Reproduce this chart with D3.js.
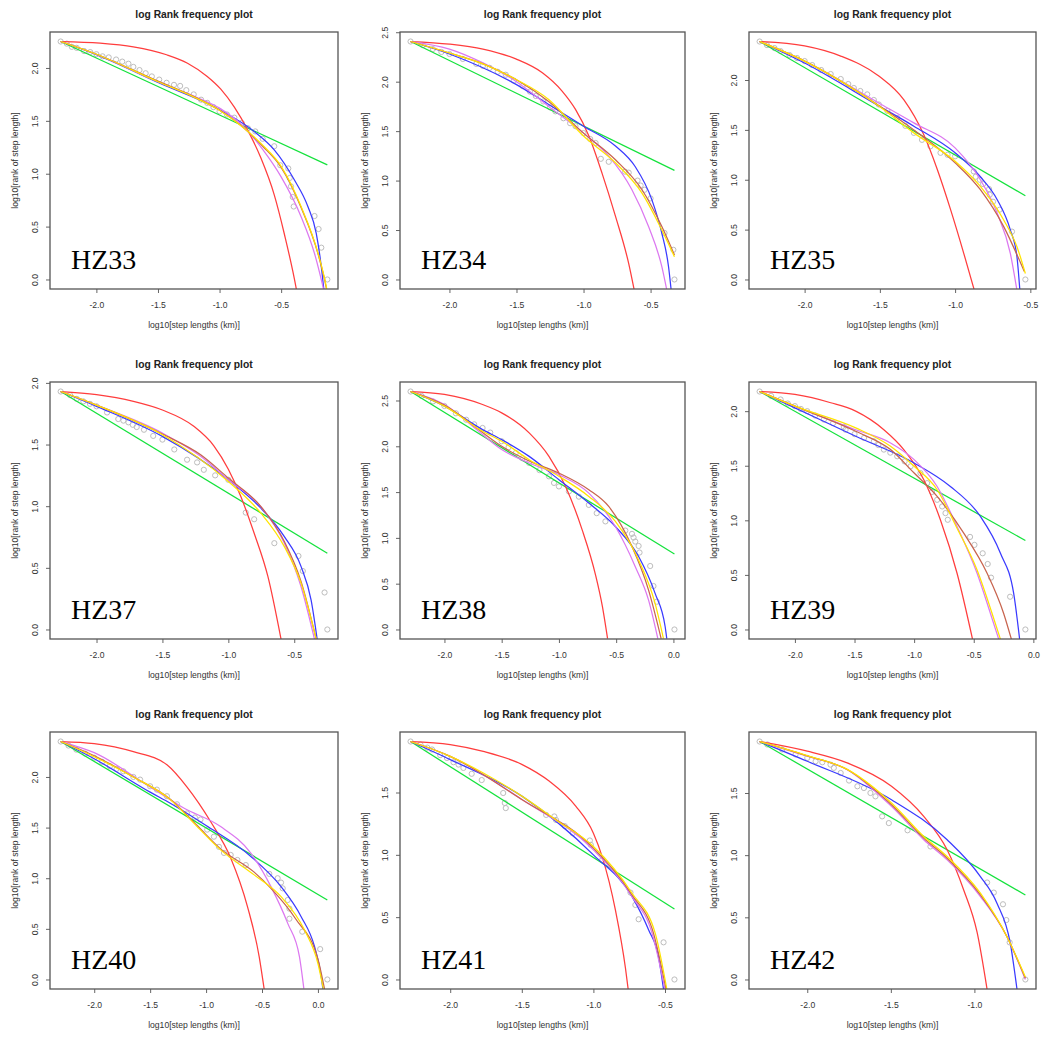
<!DOCTYPE html>
<html>
<head>
<meta charset="utf-8">
<script src="https://cdn.jsdelivr.net/npm/d3@7"></script>
<style>
  body { margin: 0; background: #fff; }
</style>
</head>
<body>
<svg id="chart" width="1047" height="1045"></svg>
<script>
const panelNames = ["HZ33", "HZ34", "HZ35", "HZ37", "HZ38", "HZ39", "HZ40", "HZ41", "HZ42"];

const xTicks = [
  [-2.0, -1.5, -1.0, -0.5], [-2.0, -1.5, -1.0, -0.5], [-2.0, -1.5, -1.0, -0.5],
  [-2.0, -1.5, -1.0, -0.5], [-2.0, -1.5, -1.0, -0.5, 0.0], [-2.0, -1.5, -1.0, -0.5, 0.0],
  [-2.0, -1.5, -1.0, -0.5, 0.0], [-2.0, -1.5, -1.0, -0.5], [-2.0, -1.5, -1.0]
];
const yTicks = [
  [0, 0.5, 1.0, 1.5, 2.0], [0, 0.5, 1.0, 1.5, 2.0, 2.5], [0, 0.5, 1.0, 1.5, 2.0],
  [0, 0.5, 1.0, 1.5, 2.0], [0, 0.5, 1.0, 1.5, 2.0, 2.5], [0, 0.5, 1.0, 1.5, 2.0],
  [0, 0.5, 1.0, 1.5, 2.0], [0, 0.5, 1.0, 1.5], [0, 0.5, 1.0, 1.5]
];

// observed points: [log10 step length, log10 rank]
const observed = [
  [[-2.29,2.25],[-2.24,2.23],[-2.2,2.2],[-2.16,2.19],[-2.1,2.16],[-2.05,2.15],[-2.0,2.13],[-1.95,2.11],[-1.9,2.1],[-1.84,2.08],[-1.79,2.06],[-1.74,2.04],[-1.7,2.01],[-1.65,1.98],[-1.6,1.95],[-1.55,1.92],[-1.49,1.89],[-1.43,1.86],[-1.37,1.84],[-1.32,1.83],[-1.27,1.79],[-1.21,1.75],[-1.15,1.7],[-1.1,1.67],[-1.05,1.63],[-1.0,1.59],[-0.94,1.56],[-0.88,1.53],[-0.82,1.48],[-0.77,1.43],[-0.71,1.4],[-0.65,1.33],[-0.556,1.26],[-0.507,1.08],[-0.442,1.05],[-0.43,0.96],[-0.42,0.88],[-0.406,0.78],[-0.398,0.69],[-0.229,0.6],[-0.196,0.477],[-0.174,0.301],[-0.125,0]],
  [[-2.29,2.406],[-2.2,2.37],[-2.124,2.33],[-2.06,2.3],[-2.0,2.28],[-1.9,2.23],[-1.8,2.18],[-1.75,2.16],[-1.7,2.14],[-1.64,2.1],[-1.58,2.07],[-1.52,2.01],[-1.455,1.956],[-1.4,1.9],[-1.356,1.855],[-1.3,1.8],[-1.25,1.74],[-1.21,1.7],[-1.15,1.63],[-1.1,1.58],[-1.06,1.55],[-1.0,1.48],[-0.95,1.42],[-0.91,1.38],[-0.871,1.22],[-0.812,1.19],[-0.69,1.09],[-0.663,1.08],[-0.597,1.0],[-0.574,0.95],[-0.545,0.907],[-0.5,0.82],[-0.396,0.47],[-0.33,0.3],[-0.322,0]],
  [[-2.299,2.386],[-2.25,2.35],[-2.2,2.32],[-2.16,2.29],[-2.1,2.25],[-2.05,2.22],[-2.0,2.19],[-1.95,2.15],[-1.89,2.1],[-1.827,2.06],[-1.76,2.01],[-1.71,1.96],[-1.673,1.92],[-1.63,1.89],[-1.584,1.856],[-1.54,1.8],[-1.507,1.755],[-1.45,1.69],[-1.385,1.62],[-1.33,1.54],[-1.274,1.47],[-1.22,1.4],[-1.164,1.336],[-1.097,1.27],[-1.05,1.25],[-1.0,1.235],[-0.876,1.084],[-0.863,1.03],[-0.836,1.0],[-0.814,0.956],[-0.774,0.906],[-0.77,0.85],[-0.748,0.78],[-0.704,0.7],[-0.622,0.48],[-0.533,0]],
  [[-2.272,1.93],[-2.2,1.9],[-2.15,1.87],[-2.1,1.85],[-2.05,1.83],[-2.0,1.81],[-1.92,1.76],[-1.835,1.707],[-1.796,1.694],[-1.758,1.68],[-1.725,1.66],[-1.695,1.642],[-1.64,1.62],[-1.57,1.57],[-1.5,1.54],[-1.41,1.46],[-1.313,1.377],[-1.237,1.355],[-1.186,1.295],[-1.1,1.25],[-1.0,1.214],[-0.868,0.948],[-0.804,0.894],[-0.651,0.7],[-0.468,0.596],[-0.435,0.474],[-0.27,0.3],[-0.249,0]],
  [[-2.296,2.598],[-2.2,2.55],[-2.1,2.49],[-2.0,2.44],[-1.9,2.36],[-1.81,2.29],[-1.74,2.24],[-1.667,2.2],[-1.6,2.15],[-1.5,2.055],[-1.44,1.99],[-1.377,1.927],[-1.32,1.87],[-1.26,1.818],[-1.17,1.74],[-1.087,1.672],[-1.043,1.6],[-1.0,1.562],[-0.913,1.507],[-0.826,1.45],[-0.739,1.36],[-0.67,1.27],[-0.594,1.18],[-0.42,1.08],[-0.362,1.044],[-0.348,1.004],[-0.333,0.96],[-0.304,0.912],[-0.296,0.84],[-0.203,0.693],[-0.174,0.474],[-0.145,0.303],[0.009,0]],
  [[-2.296,2.18],[-2.2,2.14],[-2.12,2.107],[-2.06,2.07],[-2.0,2.046],[-1.95,2.02],[-1.897,2.0],[-1.83,1.96],[-1.757,1.923],[-1.68,1.89],[-1.59,1.856],[-1.575,1.83],[-1.5,1.79],[-1.42,1.755],[-1.338,1.724],[-1.3,1.69],[-1.254,1.648],[-1.2,1.62],[-1.142,1.587],[-1.08,1.54],[-1.03,1.495],[-0.947,1.433],[-0.891,1.341],[-0.85,1.26],[-0.807,1.188],[-0.765,1.127],[-0.737,1.066],[-0.718,1.005],[-0.531,0.848],[-0.494,0.775],[-0.425,0.698],[-0.383,0.6],[-0.355,0.475],[-0.195,0.3],[-0.067,0]],
  [[-2.3,2.35],[-2.23,2.31],[-2.16,2.27],[-2.08,2.23],[-2.0,2.19],[-1.93,2.15],[-1.86,2.106],[-1.8,2.08],[-1.74,2.056],[-1.65,2.0],[-1.59,1.974],[-1.5,1.908],[-1.44,1.875],[-1.35,1.81],[-1.26,1.73],[-1.17,1.64],[-1.1,1.6],[-1.05,1.58],[-0.99,1.48],[-0.93,1.41],[-0.885,1.31],[-0.84,1.25],[-0.78,1.23],[-0.72,1.18],[-0.645,1.13],[-0.435,1.043],[-0.36,1.0],[-0.33,0.957],[-0.315,0.9],[-0.27,0.785],[-0.255,0.7],[-0.255,0.6],[-0.14,0.472],[0.02,0.3],[0.084,0]],
  [[-2.277,1.909],[-2.208,1.885],[-2.16,1.86],[-2.127,1.845],[-2.07,1.8],[-2.023,1.777],[-1.977,1.743],[-1.942,1.724],[-1.908,1.697],[-1.85,1.65],[-1.78,1.6],[-1.63,1.496],[-1.619,1.416],[-1.612,1.375],[-1.33,1.32],[-1.273,1.308],[-1.261,1.28],[-1.2,1.23],[-1.145,1.174],[-1.025,1.115],[-1.018,1.08],[-0.938,0.96],[-0.741,0.697],[-0.707,0.598],[-0.684,0.483],[-0.51,0.298],[-0.434,0]],
  [[-2.285,1.914],[-2.239,1.89],[-2.15,1.85],[-2.07,1.81],[-2.0,1.782],[-1.95,1.755],[-1.91,1.747],[-1.861,1.728],[-1.841,1.702],[-1.8,1.661],[-1.75,1.6],[-1.7,1.554],[-1.661,1.54],[-1.622,1.5],[-1.592,1.473],[-1.552,1.312],[-1.512,1.258],[-1.4,1.2],[-1.263,1.07],[-0.924,0.78],[-0.884,0.699],[-0.829,0.605],[-0.809,0.478],[-0.789,0.298],[-0.695,0]]
];

// fitted curves, one list per panel
const fitGreen = [
  [[-2.29,2.25],[-0.125,1.084]],
  [[-2.29,2.406],[-0.322,1.103]],
  [[-2.299,2.386],[-0.533,0.84]],
  [[-2.272,1.93],[-0.249,0.618]],
  [[-2.296,2.598],[0.009,0.825]],
  [[-2.296,2.18],[-0.067,0.815]],
  [[-2.3,2.35],[0.084,0.785]],
  [[-2.277,1.909],[-0.434,0.566]],
  [[-2.285,1.914],[-0.695,0.68]]
];
const fitRed = [
  [[-2.29,2.25],[-1.97,2.235],[-1.7,2.2],[-1.43,2.125],[-1.26,2.045],[-1.1,1.92],[-0.99,1.8],[-0.88,1.63],[-0.77,1.41],[-0.665,1.15],[-0.556,0.8],[-0.474,0.43],[-0.38,-0.07],[-0.36,-0.2]],
  [[-2.29,2.406],[-2.0,2.38],[-1.75,2.33],[-1.505,2.23],[-1.307,2.09],[-1.16,1.905],[-1.06,1.72],[-0.96,1.45],[-0.861,1.07],[-0.762,0.64],[-0.663,0.16],[-0.62,-0.12]],
  [[-2.299,2.386],[-2.0,2.342],[-1.76,2.24],[-1.507,2.04],[-1.34,1.8],[-1.208,1.45],[-1.12,1.11],[-1.03,0.7],[-0.942,0.26],[-0.87,-0.12]],
  [[-2.272,1.93],[-2.0,1.905],[-1.72,1.85],[-1.5,1.78],[-1.262,1.648],[-1.11,1.49],[-1.0,1.3],[-0.906,1.08],[-0.804,0.78],[-0.7,0.43],[-0.6,-0.08]],
  [[-2.296,2.598],[-2.0,2.566],[-1.667,2.456],[-1.5,2.365],[-1.26,2.146],[-1.087,1.89],[-0.942,1.562],[-0.797,1.088],[-0.681,0.6],[-0.62,0.25],[-0.575,-0.1]],
  [[-2.296,2.18],[-2.0,2.153],[-1.7,2.077],[-1.49,2.0],[-1.254,1.83],[-1.087,1.648],[-0.919,1.372],[-0.78,1.005],[-0.64,0.515],[-0.51,-0.09]],
  [[-2.3,2.35],[-2.0,2.33],[-1.65,2.25],[-1.35,2.12],[-1.17,1.9],[-0.96,1.56],[-0.78,1.2],[-0.63,0.72],[-0.525,0.224],[-0.48,-0.1]],
  [[-2.277,1.909],[-2.0,1.885],[-1.769,1.83],[-1.497,1.724],[-1.307,1.59],[-1.122,1.389],[-1.0,1.174],[-0.94,0.99],[-0.845,0.55],[-0.776,0.09],[-0.757,-0.08]],
  [[-2.285,1.914],[-2.0,1.836],[-1.761,1.742],[-1.496,1.554],[-1.303,1.312],[-1.163,1.043],[-1.064,0.72],[-0.984,0.38],[-0.924,-0.08]]
];
const fitBlue = [
  [[-2.29,2.25],[-2.0,2.126],[-1.49,1.858],[-1.0,1.605],[-0.719,1.4],[-0.556,1.226],[-0.392,0.94],[-0.283,0.69],[-0.215,0.436],[-0.174,0.12],[-0.153,-0.1]],
  [[-2.29,2.406],[-2.0,2.28],[-1.5,1.97],[-1.26,1.77],[-1.0,1.55],[-0.762,1.35],[-0.614,1.14],[-0.49,0.805],[-0.416,0.467],[-0.366,0.129],[-0.347,-0.1]],
  [[-2.299,2.386],[-2.0,2.17],[-1.507,1.74],[-1.274,1.537],[-1.0,1.27],[-0.832,1.03],[-0.72,0.8],[-0.633,0.497],[-0.589,0.228],[-0.57,-0.1]],
  [[-2.272,1.93],[-2.0,1.81],[-1.5,1.566],[-1.0,1.214],[-0.753,0.984],[-0.575,0.753],[-0.448,0.51],[-0.372,0.238],[-0.326,-0.08]],
  [[-2.296,2.598],[-2.0,2.438],[-1.667,2.182],[-1.5,2.073],[-1.26,1.89],[-1.0,1.635],[-0.739,1.38],[-0.507,1.124],[-0.304,0.796],[-0.16,0.394],[-0.072,0.03],[-0.058,-0.1]],
  [[-2.296,2.18],[-2.0,2.03],[-1.49,1.77],[-1.0,1.525],[-0.696,1.31],[-0.444,1.035],[-0.277,0.7],[-0.165,0.33],[-0.115,-0.09]],
  [[-2.3,2.35],[-2.0,2.18],[-1.5,1.85],[-1.32,1.74],[-1.0,1.52],[-0.6,1.215],[-0.33,0.917],[-0.15,0.62],[-0.03,0.323],[0.03,0.026],[0.045,-0.1]],
  [[-2.277,1.909],[-2.0,1.764],[-1.497,1.469],[-1.0,1.0],[-0.73,0.665],[-0.614,0.397],[-0.545,0.182],[-0.51,-0.08]],
  [[-2.285,1.914],[-2.0,1.755],[-1.496,1.446],[-1.163,1.124],[-0.964,0.828],[-0.865,0.613],[-0.785,0.29],[-0.745,-0.08]]
];
const fitViolet = [
  [[-2.29,2.25],[-2.0,2.13],[-1.5,1.87],[-1.2,1.73],[-1.0,1.62],[-0.8,1.44],[-0.65,1.23],[-0.5,0.97],[-0.338,0.594],[-0.229,0.246],[-0.16,-0.07],[-0.15,-0.12]],
  [[-2.29,2.406],[-2.0,2.33],[-1.75,2.19],[-1.5,2.0],[-1.26,1.75],[-1.0,1.48],[-0.81,1.245],[-0.64,0.91],[-0.515,0.535],[-0.416,0.129],[-0.38,-0.1]],
  [[-2.299,2.386],[-2.0,2.19],[-1.507,1.77],[-1.274,1.57],[-1.0,1.32],[-0.832,1.0],[-0.72,0.664],[-0.633,0.262],[-0.59,-0.1]],
  [[-2.272,1.93],[-2.0,1.82],[-1.5,1.593],[-1.21,1.404],[-1.0,1.214],[-0.753,0.997],[-0.575,0.7],[-0.448,0.347],[-0.346,-0.08]],
  [[-2.296,2.598],[-2.0,2.456],[-1.667,2.128],[-1.5,1.964],[-1.26,1.818],[-1.0,1.69],[-0.739,1.489],[-0.507,1.124],[-0.333,0.686],[-0.217,0.321],[-0.136,-0.1]],
  [[-2.296,2.18],[-2.0,2.046],[-1.49,1.83],[-1.198,1.709],[-1.0,1.556],[-0.807,1.31],[-0.64,0.943],[-0.472,0.515],[-0.36,0.147],[-0.29,-0.09]],
  [[-2.3,2.35],[-2.0,2.24],[-1.5,1.9],[-1.2,1.693],[-0.87,1.51],[-0.6,1.248],[-0.42,0.917],[-0.27,0.554],[-0.165,0.224],[-0.126,-0.09]],
  [[-2.277,1.909],[-2.0,1.79],[-1.497,1.442],[-1.0,1.04],[-0.73,0.665],[-0.59,0.37],[-0.5,-0.08]],
  [[-2.285,1.914],[-2.0,1.796],[-1.761,1.688],[-1.496,1.392],[-1.303,1.124],[-1.163,0.962],[-0.964,0.667],[-0.805,0.344],[-0.695,0.0]]
];
const fitYellow = [
  [[-2.29,2.25],[-2.0,2.13],[-1.5,1.87],[-1.2,1.72],[-1.0,1.6],[-0.8,1.43],[-0.65,1.27],[-0.5,1.07],[-0.338,0.69],[-0.2,0.246],[-0.133,-0.07],[-0.125,-0.12]],
  [[-2.29,2.406],[-2.0,2.29],[-1.75,2.18],[-1.5,2.02],[-1.26,1.82],[-1.0,1.45],[-0.762,1.18],[-0.564,0.873],[-0.416,0.5],[-0.322,0.23]],
  [[-2.299,2.386],[-2.0,2.19],[-1.507,1.74],[-1.274,1.47],[-1.0,1.185],[-0.832,0.933],[-0.677,0.597],[-0.589,0.329],[-0.533,0.06]],
  [[-2.272,1.93],[-2.0,1.82],[-1.5,1.58],[-1.0,1.2],[-0.753,0.943],[-0.575,0.672],[-0.448,0.374],[-0.333,-0.08]],
  [[-2.296,2.598],[-2.0,2.438],[-1.667,2.164],[-1.5,2.055],[-1.26,1.854],[-1.0,1.672],[-0.739,1.453],[-0.507,1.179],[-0.304,0.759],[-0.16,0.285],[-0.087,-0.1]],
  [[-2.296,2.18],[-2.0,2.046],[-1.49,1.847],[-1.198,1.678],[-1.0,1.495],[-0.807,1.28],[-0.64,0.928],[-0.472,0.545],[-0.346,0.147],[-0.276,-0.09]],
  [[-2.3,2.35],[-2.0,2.2],[-1.65,2.0],[-1.32,1.776],[-1.08,1.51],[-0.87,1.28],[-0.57,1.033],[-0.33,0.818],[-0.12,0.488],[0.0,0.158],[0.05,-0.1]],
  [[-2.277,1.909],[-2.0,1.79],[-1.769,1.657],[-1.497,1.469],[-1.261,1.28],[-1.0,1.067],[-0.73,0.692],[-0.568,0.37],[-0.487,-0.08]],
  [[-2.285,1.914],[-2.0,1.8],[-1.761,1.69],[-1.496,1.419],[-1.303,1.15],[-1.163,0.989],[-0.964,0.694],[-0.805,0.344],[-0.695,0.02]]
];
const fitBrown = [
  [[-2.29,2.25],[-2.0,2.13],[-1.5,1.875],[-1.2,1.725],[-1.0,1.6],[-0.8,1.43],[-0.65,1.26],[-0.5,1.06],[-0.338,0.68],[-0.2,0.24],[-0.135,-0.07],[-0.127,-0.12]],
  [[-2.29,2.406],[-2.0,2.29],[-1.75,2.18],[-1.5,2.02],[-1.26,1.8],[-1.0,1.48],[-0.762,1.21],[-0.564,0.907],[-0.416,0.535],[-0.322,0.247]],
  [[-2.299,2.386],[-2.0,2.19],[-1.507,1.745],[-1.274,1.5],[-1.0,1.17],[-0.832,0.9],[-0.677,0.53],[-0.54,0.08]],
  [[-2.272,1.93],[-2.0,1.82],[-1.5,1.585],[-1.21,1.417],[-1.0,1.228],[-0.753,0.997],[-0.575,0.713],[-0.448,0.388],[-0.333,-0.08]],
  [[-2.296,2.598],[-2.0,2.45],[-1.667,2.15],[-1.5,2.0],[-1.26,1.84],[-1.0,1.708],[-0.739,1.526],[-0.565,1.343],[-0.362,0.905],[-0.217,0.43],[-0.107,-0.1]],
  [[-2.296,2.18],[-2.0,2.046],[-1.49,1.816],[-1.198,1.648],[-1.0,1.433],[-0.807,1.219],[-0.584,0.882],[-0.388,0.515],[-0.249,0.147],[-0.184,-0.09]],
  [[-2.3,2.35],[-2.0,2.21],[-1.65,2.0],[-1.32,1.78],[-1.08,1.52],[-0.87,1.29],[-0.57,1.06],[-0.42,0.9],[-0.2,0.6],[0.0,0.2],[0.06,-0.1]],
  [[-2.277,1.909],[-2.0,1.79],[-1.497,1.442],[-1.0,1.054],[-0.73,0.678],[-0.58,0.37],[-0.492,-0.08]],
  [[-2.285,1.914],[-2.0,1.798],[-1.761,1.689],[-1.496,1.405],[-1.303,1.137],[-1.163,0.975],[-0.964,0.68],[-0.805,0.344],[-0.695,0.01]]
];

// drawing order: later entries sit on top
const fits = [
  { data: fitGreen, color: "#14e23c" },
  { data: fitRed, color: "#ff3d3d" },
  { data: fitBlue, color: "#3a3aff" },
  { data: fitViolet, color: "#dc78f0" },
  { data: fitBrown, color: "#c8644e" },
  { data: fitYellow, color: "#ffe400" }
];

const colLeft = [50, 400, 749];
const colWidth = [288, 285, 287];
const rowTop = [32, 382, 732];
const boxH = 257;
const sans = "'Liberation Sans', Arial, Helvetica, sans-serif";

const svg = d3.select("#chart");

panelNames.forEach((name, i) => {
  const col = i % 3, row = Math.floor(i / 3);
  const w = colWidth[col], h = boxH;
  const pts = observed[i];

  // R style axis range: data range plus 4% each side
  const xe = d3.extent(pts, d => d[0]);
  const ye = d3.extent(pts, d => d[1]);
  const xp = (xe[1] - xe[0]) * 0.04, yp = (ye[1] - ye[0]) * 0.04;
  const x = d3.scaleLinear().domain([xe[0] - xp, xe[1] + xp]).range([0, w]);
  const y = d3.scaleLinear().domain([ye[0] - yp, ye[1] + yp]).range([h, 0]);

  const g = svg.append("g").attr("transform", `translate(${colLeft[col]},${rowTop[row]})`);

  g.append("clipPath").attr("id", "clip" + i)
    .append("rect").attr("width", w).attr("height", h);

  const plot = g.append("g").attr("clip-path", `url(#clip${i})`);

  plot.selectAll("circle")
    .data(pts)
    .join("circle")
    .attr("cx", d => x(d[0]))
    .attr("cy", d => y(d[1]))
    .attr("r", 2.6)
    .attr("fill", "none")
    .attr("stroke", "#bdbdbd")
    .attr("stroke-width", 1);

  const line = d3.line()
    .x(d => x(d[0]))
    .y(d => y(d[1]))
    .curve(d3.curveMonotoneX);

  fits.forEach(f => {
    plot.append("path")
      .attr("d", line(f.data[i]))
      .attr("fill", "none")
      .attr("stroke", f.color)
      .attr("stroke-width", 1.25);
  });

  // axes
  const xAxis = g.append("g")
    .attr("transform", `translate(0,${h})`)
    .call(d3.axisBottom(x).tickValues(xTicks[i]).tickFormat(d => d.toFixed(1)).tickSize(4).tickPadding(9));
  xAxis.select(".domain").remove();

  const yAxis = g.append("g")
    .call(d3.axisLeft(y).tickValues(yTicks[i]).tickFormat(d => d.toFixed(1)).tickSize(4));
  yAxis.select(".domain").remove();
  yAxis.selectAll("text")
    .attr("transform", "rotate(-90)")
    .attr("text-anchor", "middle")
    .attr("x", 0)
    .attr("y", -12)
    .attr("dy", "0");

  [xAxis, yAxis].forEach(a => {
    a.attr("font-family", sans).attr("font-size", 8.6);
    a.selectAll("line").attr("stroke", "#666");
    a.selectAll("text").attr("fill", "#333");
  });

  g.append("rect")
    .attr("width", w)
    .attr("height", h)
    .attr("fill", "none")
    .attr("stroke", "#555")
    .attr("stroke-width", 1.3);

  g.append("text")
    .attr("x", w / 2)
    .attr("y", -14)
    .attr("text-anchor", "middle")
    .attr("font-family", sans)
    .attr("font-weight", "bold")
    .attr("font-size", 10.3)
    .attr("fill", "#222")
    .text("log Rank frequency plot");

  g.append("text")
    .attr("x", w / 2)
    .attr("y", h + 39)
    .attr("text-anchor", "middle")
    .attr("font-family", sans)
    .attr("font-size", 8.6)
    .attr("fill", "#333")
    .text("log10[step lengths (km)]");

  g.append("text")
    .attr("transform", `translate(-32,${h / 2}) rotate(-90)`)
    .attr("text-anchor", "middle")
    .attr("font-family", sans)
    .attr("font-size", 8.6)
    .attr("fill", "#333")
    .text("log10[rank of step length]");

  g.append("text")
    .attr("x", 21)
    .attr("y", 237)
    .attr("font-family", "'Liberation Serif', 'DejaVu Serif', serif")
    .attr("font-size", 28)
    .attr("fill", "#000")
    .text(name);
});
</script>
</body>
</html>
